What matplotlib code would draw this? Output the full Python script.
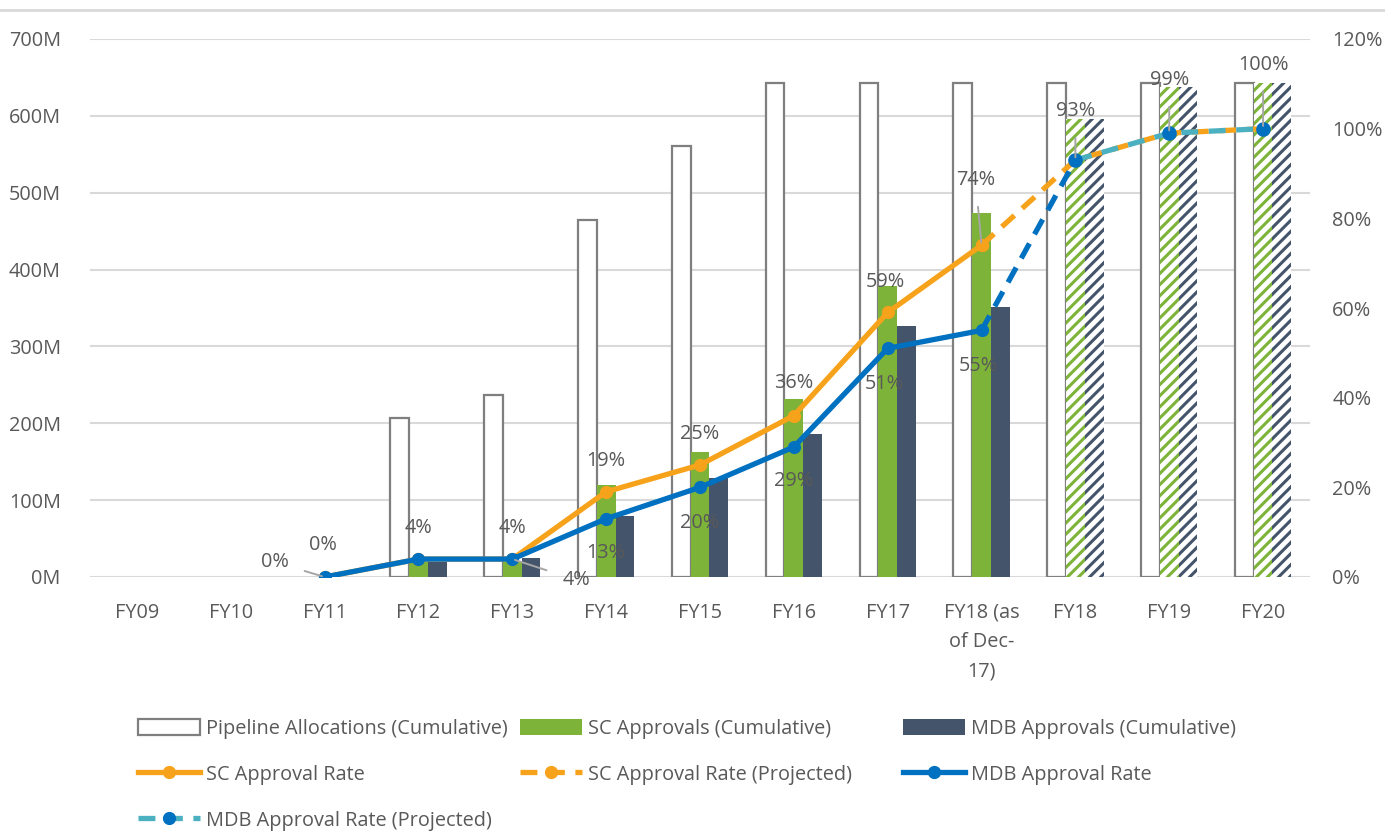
import numpy as np
import matplotlib
matplotlib.use("Agg")
import matplotlib.pyplot as plt
from matplotlib.lines import Line2D
from matplotlib.patches import Patch

# ---------------- data ----------------
nan = np.nan
categories = ["FY09", "FY10", "FY11", "FY12", "FY13", "FY14", "FY15", "FY16",
              "FY17", "FY18 (as\nof Dec-\n17)", "FY18", "FY19", "FY20"]
pipeline = [nan, nan, nan, 207, 237, 465, 561, 643, 643, 643, 643, 643, 643]
sc_approvals = [nan, nan, nan, 20, 20, 120, 163, 231, 378, 473, 596, 637, 643]
mdb_approvals = [nan, nan, nan, 20, 25, 79, 129, 186, 326, 351, 596, 637, 643]
projected = [False] * 10 + [True] * 3

sc_rate = [nan, nan, 0, 4, 4, 19, 25, 36, 59, 74, nan, nan, nan]
sc_rate_proj = [nan, nan, nan, nan, nan, nan, nan, nan, nan, 74, 93, 99, 100]
mdb_rate = [nan, nan, 0, 4, 4, 13, 20, 29, 51, 55, nan, nan, nan]
mdb_rate_proj = [nan, nan, nan, nan, nan, nan, nan, nan, nan, 55, 93, 99, 100]

left_ticks = [0, 100, 200, 300, 400, 500, 600, 700]
left_ticklabels = ["0M", "100M", "200M", "300M", "400M", "500M", "600M", "700M"]
right_ticks = [0, 20, 40, 60, 80, 100, 120]
right_ticklabels = ["0%", "20%", "40%", "60%", "80%", "100%", "120%"]

# ---------------- style ----------------
plt.rcParams['font.family'] = ['Open Sans', 'DejaVu Sans']
plt.rcParams['hatch.linewidth'] = 2.2
TXT = "#595959"
GRID = "#D9D9D9"
C_PIPE_EDGE = "#7F7F7F"
C_GREEN = "#7CB338"
C_NAVY = "#44546A"
C_ORANGE = "#F7A21B"
C_BLUE = "#0070C0"
C_TEAL = "#4BB0C0"
FS = 14.3

fig = plt.figure(figsize=(13.85, 8.32), dpi=100)
ax = fig.add_axes([90 / 1385, 1 - 577 / 832, 1220 / 1385, (577 - 39) / 832])
ax2 = ax.twinx()

x = np.arange(len(categories))
w = 0.2

ax.bar(x - w, pipeline, w, facecolor="white", edgecolor=C_PIPE_EDGE,
       linewidth=1.6, zorder=2)
gb = ax.bar(x, sc_approvals, w, color=C_GREEN, linewidth=0, zorder=2)
nb = ax.bar(x + w, mdb_approvals, w, color=C_NAVY, linewidth=0, zorder=2)
for i, p in enumerate(projected):
    if p:
        for bars, col in ((gb, C_GREEN), (nb, C_NAVY)):
            b = bars[i]
            b.set_facecolor("white")
            b.set_edgecolor(col)
            b.set_hatch("///")
            b.set_linewidth(0)

ax.set_xlim(-0.5, len(categories) - 0.5)
ax.set_ylim(0, 700)
ax.set_yticks(left_ticks)
ax.set_yticklabels(left_ticklabels)
ax.set_xticks(x)
ax.set_xticklabels(categories, linespacing=1.63)
ax.grid(axis="y", color=GRID, linewidth=1.5, zorder=0)
ax.set_axisbelow(True)
for s in ax.spines.values():
    s.set_visible(False)
for s in ax2.spines.values():
    s.set_visible(False)
ax.tick_params(axis="y", length=0, pad=21, labelsize=FS, labelcolor=TXT)
ax.tick_params(axis="x", length=0, pad=18.5, labelsize=FS, labelcolor=TXT)

ax2.set_ylim(0, 120)
ax2.set_yticks(right_ticks)
ax2.set_yticklabels(right_ticklabels)
ax2.tick_params(axis="y", length=0, pad=16, labelsize=FS, labelcolor=TXT)

LW = 3.8
MS = 8.5
dash = (0, (3.2, 2.0))
xa = np.array(x)
sc_p = np.array(sc_rate_proj, dtype=float)
mdb_p = np.array(mdb_rate_proj, dtype=float)

ax2.plot(xa, sc_p, color=C_ORANGE, lw=LW, linestyle=dash, marker="o",
         ms=MS, zorder=3, dash_capstyle="butt")
ax2.plot(xa, sc_rate, color=C_ORANGE, lw=LW, marker="o", ms=MS, zorder=4)
# projected MDB: first segment blue dashed, remainder teal dashed
ax2.plot(xa[9:11], mdb_p[9:11], color=C_BLUE, lw=LW, linestyle=dash, zorder=5)
ax2.plot(xa[10:], mdb_p[10:], color=C_TEAL, lw=LW, linestyle=dash, zorder=5)
ax2.plot(xa[10:], mdb_p[10:], color=C_BLUE, lw=0, marker="o", ms=MS + 1, zorder=6)
ax2.plot(xa, mdb_rate, color=C_BLUE, lw=LW, marker="o", ms=MS, zorder=6)

# ---------------- data labels ----------------
LEAD = "#A6A6A6"


def lab(xi, yv, text, dx, dy, leader=False):
    kw = {}
    if leader:
        kw["arrowprops"] = dict(arrowstyle="-", color=LEAD, lw=1.4,
                                shrinkA=10, shrinkB=2)
    ax2.annotate(text, (xi, yv), xytext=(dx, dy), textcoords="offset pixels",
                 ha="center", va="center", fontsize=FS, color=TXT, zorder=8, **kw)


# SC rate labels
lab(2, sc_rate[2], "0%", -2, 32)
lab(3, sc_rate[3], "4%", 0, 31)
lab(4, sc_rate[4], "4%", 0, 31)
lab(5, sc_rate[5], "19%", 0, 31)
lab(6, sc_rate[6], "25%", 0, 31)
lab(7, sc_rate[7], "36%", 0, 33)
lab(8, sc_rate[8], "59%", -2, 30)
lab(9, sc_rate[9], "74%", -6, 65, leader=True)
# MDB rate labels
lab(2, mdb_rate[2], "0%", -50, 15, leader=True)
lab(4, mdb_rate[4], "4%", 64, -21, leader=True)
lab(5, mdb_rate[5], "13%", 0, -34)
lab(6, mdb_rate[6], "20%", 0, -36)
lab(7, mdb_rate[7], "29%", 0, -34)
lab(8, mdb_rate[8], "51%", -3, -36)
lab(9, mdb_rate[9], "55%", -3, -36)
# projected labels
lab(10, mdb_rate_proj[10], "93%", 0, 49, leader=True)
lab(11, mdb_rate_proj[11], "99%", 0, 53, leader=True)
lab(12, mdb_rate_proj[12], "100%", 0, 64, leader=True)

# ---------------- legend ----------------
h_pipe = Patch(facecolor="white", edgecolor=C_PIPE_EDGE, linewidth=1.6)
h_sc = Patch(facecolor=C_GREEN, edgecolor="none")
h_mdb = Patch(facecolor=C_NAVY, edgecolor="none")
h_scr = Line2D([], [], color=C_ORANGE, lw=LW, marker="o", ms=MS)
h_scp = Line2D([], [], color=C_ORANGE, lw=LW, linestyle=dash, marker="o", ms=MS)
h_mdbr = Line2D([], [], color=C_BLUE, lw=LW, marker="o", ms=MS)
h_mdbp = Line2D([], [], color=C_TEAL, lw=LW, linestyle=dash, marker="o", ms=MS,
                markerfacecolor=C_BLUE, markeredgecolor=C_BLUE)

cols = [
    (138, [h_pipe, h_scr, h_mdbp], ["Pipeline Allocations (Cumulative)",
                                    "SC Approval Rate",
                                    "MDB Approval Rate (Projected)"]),
    (520, [h_sc, h_scp], ["SC Approvals (Cumulative)", "SC Approval Rate (Projected)"]),
    (903, [h_mdb, h_mdbr], ["MDB Approvals (Cumulative)", "MDB Approval Rate"]),
]
for xpos, hs, ls in cols:
    leg = fig.legend(hs, ls, loc="upper left",
                     bbox_to_anchor=(xpos / 1385, 1 - 719 / 832),
                     frameon=False, fontsize=FS, labelcolor=TXT,
                     handlelength=3.1, handleheight=0.9, handletextpad=0.3,
                     borderpad=0, borderaxespad=0, labelspacing=1.3)

# top border line
fig.add_artist(Line2D([0, 1], [1 - 10 / 832, 1 - 10 / 832], color=GRID, lw=2.0,
                      transform=fig.transFigure))

fig.savefig("out.png", dpi=100)
